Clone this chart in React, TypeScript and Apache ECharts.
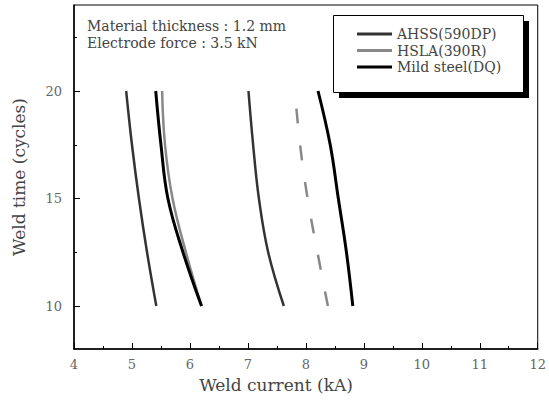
import React, { useEffect, useRef } from "react";
import * as echarts from "echarts";

// Weld time (cycles) at which each curve is sampled, from bottom (10) to top (20)
const weldTime = [10, 12.5, 15, 17.5, 20];
// Weld current (kA)
const ahssLow = [5.42, 5.26, 5.12, 5.0, 4.9];
const ahssHigh = [7.62, 7.35, 7.19, 7.09, 7.01];
const hslaLow = [6.2, 5.93, 5.7, 5.57, 5.52];
const hslaHigh = [8.38, 8.2, 8.03, 7.9, 7.81];
const mildLow = [6.2, 5.88, 5.62, 5.5, 5.41];
const mildHigh = [8.81, 8.7, 8.56, 8.42, 8.21];

const yMajorTicks = [10, 15, 20];
const yMinorTicks = [12.5, 17.5, 22.5];

const FONT = "DejaVu Serif";

const pairs = (xs: number[]) => xs.map((x, i) => [x, weldTime[i]]);

export default function App() {
  const ref = useRef<HTMLDivElement>(null);
  useEffect(() => {
    if (!ref.current) return;
    const chart = echarts.init(ref.current, undefined, { renderer: "svg" });
    const AHSS = "AHSS(590DP)";
    const HSLA = "HSLA(390R)";
    const MILD = "Mild steel(DQ)";
    const line = (name: string, data: number[], color: string, width: number, type: any = "solid") => ({
      name,
      type: "line",
      data: pairs(data),
      smooth: 0.4,
      symbol: "none",
      xAxisIndex: 0,
      yAxisIndex: 0,
      lineStyle: { color, width, type },
      itemStyle: { color },
      z: 3,
    });
    chart.setOption({
      animation: false,
      backgroundColor: "#fff",
      grid: {
        left: 74,
        right: 7,
        top: 5,
        bottom: 56,
        show: true,
        borderColor: "#000",
        borderWidth: 1,
        backgroundColor: "transparent",
      },
      xAxis: {
        type: "value",
        min: 4,
        max: 12,
        interval: 1,
        axisLine: { show: true, onZero: false, lineStyle: { color: "#000", width: 1.5 } },
        axisTick: { show: true, inside: true, length: 6, lineStyle: { color: "#000", width: 1 } },
        minorTick: { show: true, splitNumber: 2, length: 3, lineStyle: { color: "#000", width: 1 } },
        splitLine: { show: false },
        axisLabel: { color: "#666", fontFamily: FONT, fontSize: 13, margin: 9 },
      },
      yAxis: [
        {
          type: "value",
          min: 8,
          max: 24,
          position: "left",
          name: "Weld time (cycles)",
          nameLocation: "middle",
          nameGap: 47,
          nameTextStyle: { color: "#444", fontFamily: FONT, fontSize: 17 },
          axisLine: { show: true, onZero: false, lineStyle: { color: "#000", width: 1.5 } },
          axisTick: {
            show: true,
            inside: true,
            length: 6,
            customValues: yMajorTicks,
            lineStyle: { color: "#000", width: 1 },
          },
          splitLine: { show: false },
          axisLabel: {
            color: "#666",
            fontFamily: FONT,
            fontSize: 13,
            margin: 12,
            customValues: yMajorTicks,
          },
        },
        {
          type: "value",
          min: 8,
          max: 24,
          position: "left",
          axisLine: { show: false },
          axisTick: {
            show: true,
            inside: true,
            length: 3,
            customValues: yMinorTicks,
            lineStyle: { color: "#000", width: 1 },
          },
          axisLabel: { show: false },
          splitLine: { show: false },
        },
      ],
      legend: {
        left: 352,
        top: 21,
        orient: "vertical",
        icon: "rect",
        itemWidth: 35,
        itemHeight: 3,
        itemGap: 0.5,
        data: [AHSS, HSLA, MILD],
        textStyle: { color: "#444", fontFamily: FONT, fontSize: 14, lineHeight: 16 },
        z: 10,
      },
      graphic: [
        {
          type: "rect",
          z: 5,
          shape: { x: 339, y: 21, width: 190, height: 77 },
          style: { fill: "#000" },
        },
        {
          type: "rect",
          z: 6,
          shape: { x: 333.5, y: 15.5, width: 190, height: 77 },
          style: { fill: "#fff", stroke: "#000", lineWidth: 1 },
        },
        {
          type: "text",
          z: 6,
          x: 87,
          y: 26,
          style: {
            text: "Material thickness : 1.2 mm",
            fill: "#444",
            font: `14px "${FONT}"`,
            verticalAlign: "middle",
          },
        },
        {
          type: "text",
          z: 6,
          x: 87,
          y: 43,
          style: {
            text: "Electrode force : 3.5 kN",
            fill: "#444",
            font: `14px "${FONT}"`,
            verticalAlign: "middle",
          },
        },
        {
          type: "text",
          z: 6,
          x: 276,
          y: 385,
          style: {
            text: "Weld current (kA)",
            fill: "#444",
            font: `17px "${FONT}"`,
            align: "center",
            verticalAlign: "middle",
          },
        },
      ],
      series: [
        line(AHSS, ahssLow, "#333", 2.5),
        line(HSLA, hslaLow, "#888", 2.5),
        line(MILD, mildLow, "#000", 3),
        line(AHSS, ahssHigh, "#333", 2.5),
        line(HSLA, hslaHigh, "#888", 2.5, [15, 22]),
        line(MILD, mildHigh, "#000", 3),
      ],
    });
    return () => chart.dispose();
  }, []);
  return <div ref={ref} style={{ width: 549, height: 405, position: "absolute", left: 0, top: 0 }} />;
}
